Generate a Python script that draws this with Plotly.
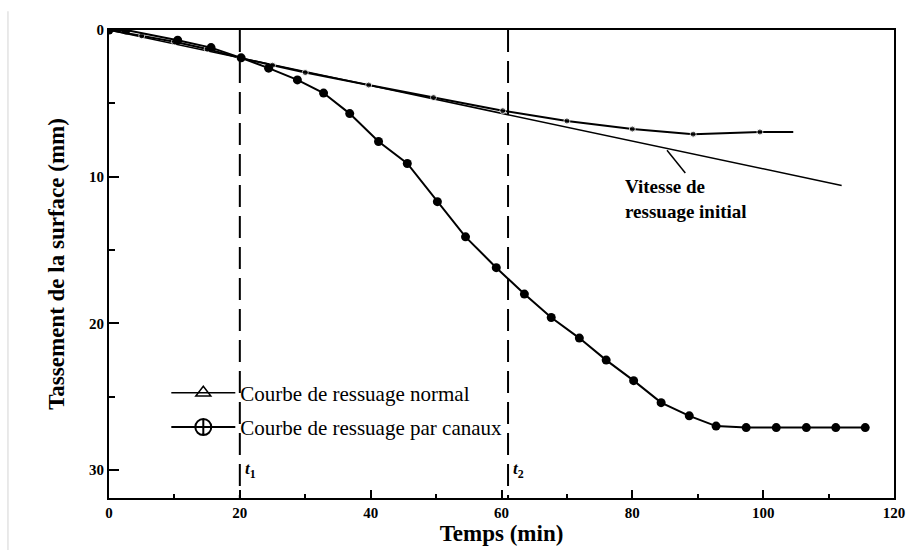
import plotly.graph_objects as go

# ---------------- data ----------------
time_canaux = [0, 2.6, 10.5, 15.6, 20.2, 24.4, 28.8, 32.8, 36.8, 41.2, 45.6, 50.2,
               54.5, 59.2, 63.5, 67.6, 71.9, 76.0, 80.2, 84.4, 88.7, 92.8, 97.4,
               102.0, 106.6, 111.1, 115.6]
tass_canaux = [0, 0, 0.7, 1.2, 1.9, 2.6, 3.4, 4.3, 5.7, 7.6, 9.1, 11.7,
               14.1, 16.2, 18.0, 19.6, 21.0, 22.5, 23.9, 25.4, 26.3, 27.0, 27.1,
               27.1, 27.1, 27.1, 27.1]

time_normal = [0, 5, 10, 15, 20, 25, 30, 39.7, 49.6, 60.2, 70.0, 80.0, 89.3, 99.5, 104.6]
tass_normal = [0, 0.4, 0.8, 1.3, 1.9, 2.4, 2.9, 3.75, 4.6, 5.5, 6.2, 6.75, 7.1, 6.95, 6.95]

time_initial = [0, 112]
tass_initial = [0, 10.6]

x_ticks = [0, 20, 40, 60, 80, 100, 120]
y_ticks = [0, 10, 20, 30]
t_marks = [20, 61]
t_names = ["1", "2"]

legend_names = ["Courbe de ressuage normal", "Courbe de ressuage par canaux"]
note_text = "Vitesse de<br>ressuage initial"
x_title = "Temps (min)"
y_title = "Tassement de la surface (mm)"

# ---------------- figure ----------------
FONT = "Liberation Serif, Times New Roman, serif"
X_MAX = 120
Y_MAX = 31.9

fig = go.Figure()

fig.add_trace(go.Scatter(
    x=time_initial, y=tass_initial, mode="lines",
    line=dict(color="black", width=1.5), showlegend=False, hoverinfo="skip"))

normal_sizes = [6] * (len(time_normal) - 1) + [0]
fig.add_trace(go.Scatter(
    x=time_normal, y=tass_normal, mode="lines+markers",
    line=dict(color="black", width=2),
    marker=dict(color="black", size=normal_sizes, symbol="circle"),
    showlegend=False))

fig.add_trace(go.Scatter(
    x=time_canaux, y=tass_canaux, mode="lines+markers",
    line=dict(color="black", width=2),
    marker=dict(color="black", size=9, symbol="circle"),
    showlegend=False))

# legend entries (symbols as drawn in the reference legend)
fig.add_trace(go.Scatter(
    x=[None], y=[None], mode="lines+markers", name=legend_names[0],
    legendgroup="a",
    line=dict(color="black", width=1.5),
    marker=dict(color="black", size=13, symbol="triangle-up-open", line=dict(width=1.5))))
fig.add_trace(go.Scatter(
    x=[None], y=[None], mode="lines+markers", name=legend_names[1],
    legendgroup="b",
    line=dict(color="black", width=2),
    marker=dict(color="black", size=16, symbol="circle-cross-open", line=dict(width=2))))

# vertical dashed lines t1, t2
for tm, nm in zip(t_marks, t_names):
    fig.add_shape(type="line", xref="x", yref="y", x0=tm, x1=tm, y0=0, y1=Y_MAX,
                  line=dict(color="black", width=2, dash="22px,9px"), layer="below")
    fig.add_annotation(x=tm, y=30, xref="x", yref="y", xanchor="left", yanchor="middle",
                       xshift=3, showarrow=False,
                       text=f"<b><i>t</i><sub>{nm}</sub></b>",
                       font=dict(family=FONT, size=17, color="black"))

# annotation "Vitesse de ressuage initial" with leader line
fig.add_shape(type="line", xref="x", yref="y", x0=85.3, y0=8.2, x1=88.1, y1=9.75,
              line=dict(color="black", width=1.5))
fig.add_annotation(x=78.6, y=9.8, xref="x", yref="y", xanchor="left", yanchor="top",
                   align="left", showarrow=False, text=f"<b>{note_text}</b>",
                   font=dict(family=FONT, size=19, color="black"))

# faint scan border at the left edge of the image
fig.add_shape(type="line", xref="paper", yref="paper", x0=-0.1287, x1=-0.1287,
              y0=-0.12, y1=1.04, line=dict(color="#d4d4d4", width=1))

fig.update_layout(
    width=906, height=550,
    margin=dict(l=109, r=12, t=30, b=52, autoexpand=False),
    paper_bgcolor="white", plot_bgcolor="white",
    font=dict(family=FONT, color="black"),
    showlegend=True,
    legend=dict(x=0.073, y=0.268, xanchor="left", yanchor="top",
                bgcolor="rgba(0,0,0,0)", itemwidth=64,
                traceorder="grouped", tracegroupgap=4,
                font=dict(family=FONT, size=21, color="black")),
)

fig.update_xaxes(
    range=[0, X_MAX], tickvals=x_ticks, ticktext=[str(v) for v in x_ticks],
    showgrid=False, zeroline=False, automargin=False,
    showline=True, linecolor="black", linewidth=2, mirror=True,
    ticks="inside", ticklen=8, tickwidth=1.5, tickcolor="black",
    minor=dict(dtick=10, ticks="inside", ticklen=4, tickwidth=1.5, tickcolor="black"),
    tickfont=dict(family=FONT, size=15, color="black", weight="bold"),
    title=dict(text=f"<b>{x_title}</b>", font=dict(family=FONT, size=23, color="black"),
               standoff=2),
)
fig.update_yaxes(
    range=[Y_MAX, 0], tickvals=y_ticks, ticktext=[str(v) for v in y_ticks],
    showgrid=False, zeroline=False, automargin=False,
    showline=True, linecolor="black", linewidth=2, mirror=True,
    ticks="inside", ticklen=10, tickwidth=1.5, tickcolor="black",
    minor=dict(dtick=5, ticks="inside", ticklen=6, tickwidth=1.5, tickcolor="black"),
    tickfont=dict(family=FONT, size=15, color="black", weight="bold"),
    title=dict(text=f"<b>{y_title}</b>", font=dict(family=FONT, size=23, color="black"),
               standoff=18),
)

# remove the default 8px page margin so the 906x550 figure fills the window exactly
fig.write_html("out.html",
               config={"displayModeBar": False},
               post_script="document.body.style.margin='0px';document.body.style.overflow='hidden';")
